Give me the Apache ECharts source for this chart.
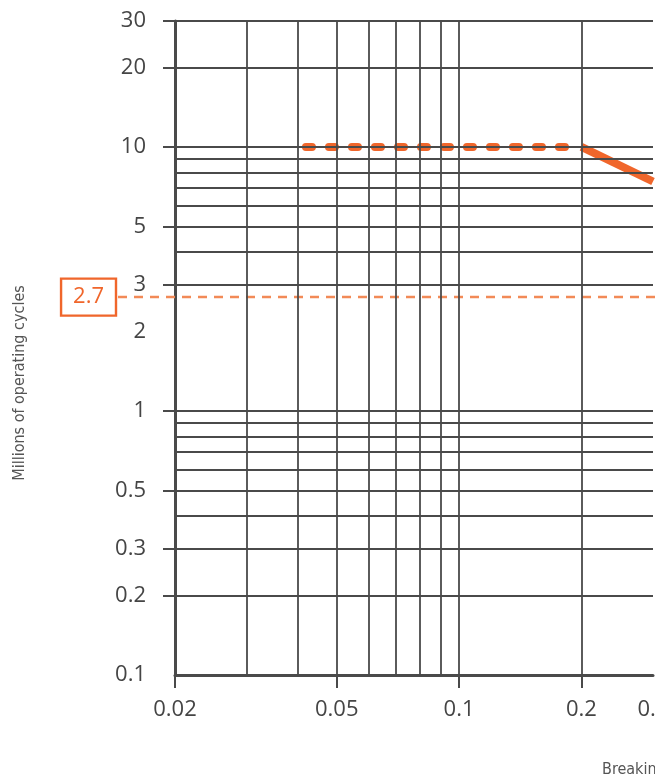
<!DOCTYPE html>
<html><head><meta charset="utf-8">
<script src="https://cdn.jsdelivr.net/npm/echarts@6/dist/echarts.min.js"></script>
<style>html,body{margin:0;padding:0;background:#fff}#c{width:655px;height:783px}</style>
</head><body><div id="c"></div>
<script>
// ---- data ----
const yLabelValues = [30, 20, 10, 5, 3, 2, 1, 0.5, 0.3, 0.2, 0.1];
const yTickValues = [30, 20, 10, 5, 3, 1, 0.5, 0.3, 0.2];
const yGridValues = [30, 20, 10, 9, 8, 7, 6, 5, 4, 3, 1, 0.9, 0.8, 0.7, 0.6, 0.5, 0.4, 0.3, 0.2];
const xLabelValues = [0.02, 0.05, 0.1, 0.2, 0.3];
const xTickValues = [0.02, 0.05, 0.1, 0.2];
const xGridValues = [0.03, 0.04, 0.05, 0.06, 0.07, 0.08, 0.09, 0.1, 0.2];
const dottedCurve = [[0.042, 10], [0.2, 10]];
const solidCurve = [[0.2, 10], [0.3, 7.4]];
const referenceValue = 2.7;
const yTitle = 'Millions of operating cycles';
const xTitle = 'Breaking capacity';

// ---- styles ----
const ORANGE = '#F0662B';
const ORANGE_LIGHT = '#F28A57';
const GRID = '#4a4a4a';
const LABEL = '#454545';
const fmt = v => String(parseFloat(Number(v).toPrecision(4)));

const chart = echarts.init(document.getElementById('c'), null, {renderer: 'canvas'});
chart.setOption({
  animation: false,
  backgroundColor: '#fff',
  grid: [
    {left: 175, right: 2, top: 21, bottom: 108, outerBoundsMode: 'none', containLabel: false},
    {left: 118, right: 0, top: 21, bottom: 108, outerBoundsMode: 'none', containLabel: false}
  ],
  xAxis: [
    {
      type: 'log', gridIndex: 0, min: 0.02, max: 0.3, logBase: 10,
      axisLine: {show: true, onZero: false, lineStyle: {color: GRID, width: 3}},
      axisTick: {show: true, customValues: xTickValues, length: 13, inside: false, lineStyle: {color: GRID, width: 2}},
      axisLabel: {show: true, customValues: xLabelValues, formatter: fmt, margin: 24,
        fontFamily: 'Open Sans', fontSize: 22, color: LABEL, hideOverlap: false},
      splitLine: {show: false}, minorTick: {show: false}
    },
    {type: 'value', gridIndex: 1, min: 0, max: 1, show: false}
  ],
  yAxis: [
    {
      type: 'log', gridIndex: 0, min: 0.1, max: 30, logBase: 10,
      axisLine: {show: true, onZero: false, lineStyle: {color: GRID, width: 3}},
      axisTick: {show: true, customValues: yTickValues, length: 12, inside: false, lineStyle: {color: GRID, width: 2}},
      axisLabel: {show: true, customValues: yLabelValues, formatter: fmt, margin: 29,
        fontFamily: 'Open Sans', fontSize: 22, color: LABEL, hideOverlap: false},
      splitLine: {show: false}
    },
    {type: 'log', gridIndex: 1, min: 0.1, max: 30, show: false}
  ],
  graphic: [
    {type: 'text', x: 20, y: 383, rotation: Math.PI / 2, silent: true,
      style: {text: yTitle, align: 'center', verticalAlign: 'middle',
        font: '16px "Liberation Sans Narrow", "DejaVu Sans Condensed", sans-serif', fill: '#555'}},
    {type: 'text', x: 602, y: 770, silent: true,
      style: {text: xTitle, align: 'left', verticalAlign: 'middle',
        font: '16px "Liberation Sans Narrow", "DejaVu Sans Condensed", sans-serif', fill: '#555'}}
  ],
  series: [
    {
      name: 'grid', type: 'line', xAxisIndex: 0, yAxisIndex: 0, data: [], z: 1, silent: true,
      markLine: {
        silent: true, symbol: ['none', 'none'], animation: false,
        label: {show: false},
        lineStyle: {color: GRID, width: 1.8, type: 'solid'},
        data: yGridValues.map(v => ({yAxis: v})).concat(xGridValues.map(v => ({xAxis: v})))
      }
    },
    {
      name: 'reference', type: 'line', xAxisIndex: 1, yAxisIndex: 1, z: 3, silent: true,
      symbol: 'circle', symbolSize: 0, showSymbol: true,
      lineStyle: {color: ORANGE_LIGHT, width: 2.5, type: [9, 7]},
      itemStyle: {color: ORANGE_LIGHT},
      data: [
        {value: [0, referenceValue], label: {show: true, position: 'left', distance: 2,
          formatter: () => fmt(referenceValue), fontFamily: 'Open Sans', fontSize: 22,
          color: ORANGE, borderColor: ORANGE, borderWidth: 2.4, padding: [6, 12, 4, 12], lineHeight: 27}},
        [1, referenceValue]
      ]
    },
    {
      name: 'dotted', type: 'line', xAxisIndex: 0, yAxisIndex: 0, z: 4, silent: true,
      showSymbol: false, symbol: 'none',
      lineStyle: {color: ORANGE, width: 8, type: [6, 17], cap: 'round'},
      data: dottedCurve
    },
    {
      name: 'solid', type: 'line', xAxisIndex: 0, yAxisIndex: 0, z: 4, silent: true,
      showSymbol: false, symbol: 'none',
      lineStyle: {color: ORANGE, width: 8, type: 'solid', cap: 'butt'},
      data: solidCurve
    }
  ]
});
</script>
</body></html>
